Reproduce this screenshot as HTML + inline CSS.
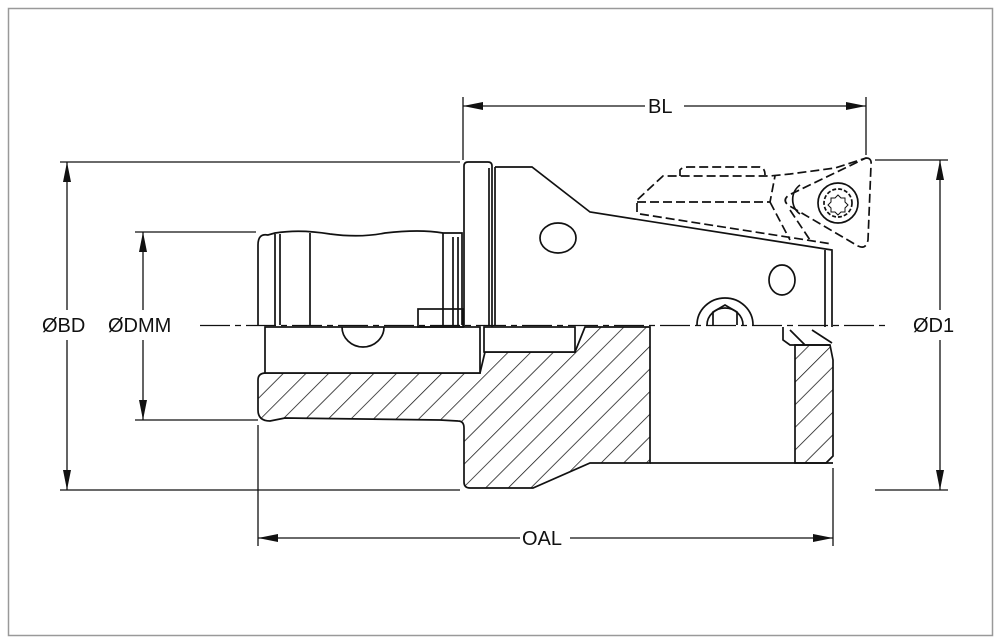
<!DOCTYPE html>
<html><head><meta charset="utf-8"><style>
html,body{margin:0;padding:0;background:#fff;}
svg{display:block;}
text{font-family:"Liberation Sans",sans-serif;font-size:20px;fill:#111;}
</style></head><body>
<svg width="1001" height="644" viewBox="0 0 1001 644" xmlns="http://www.w3.org/2000/svg">
<defs>
<pattern id="h" width="16" height="16" patternUnits="userSpaceOnUse" patternTransform="rotate(45)">
<line x1="0" y1="0" x2="0" y2="16" stroke="#111" stroke-width="1.5"/>
</pattern>
<marker id="a" viewBox="0 0 20 8" refX="20" refY="4" markerWidth="20" markerHeight="8" markerUnits="userSpaceOnUse" orient="auto-start-reverse">
<path d="M0,0 L20,4 L0,8 Z" fill="#111"/>
</marker>
</defs>
<rect x="8.5" y="8.5" width="984" height="627" fill="none" stroke="#999" stroke-width="1.5"/>
<g fill="none" stroke="#111" stroke-width="1.7">
<path d="M258,380 Q258,373 266,373 L480,373 L485,352 L575,352 L585,327 L650,327 L650,463 L590,463 L533,488 L470,488 Q464,488 464,482 L464,428 Q464,421 458,421 L440,420 L285,418 L270,421 Q258,421 258,410 Z" fill="url(#h)"/>
<path d="M795,345 L830,345 L833,360 L833,456 L826,463 L795,463 Z" fill="url(#h)"/>
<rect x="265" y="327" width="215" height="46" fill="#fff"/>
<rect x="484" y="327" width="91" height="25" fill="#fff"/>
<path d="M342,327 A21,20 0 0 0 384,327" />
<line x1="650" y1="463" x2="833" y2="463"/>
<path d="M258,245 Q258,233 268,235 L275,233 Q300,229 330,234 Q360,238 385,233 Q420,229 443,233 L462,233 L462,325"/>
<line x1="258" y1="245" x2="258" y2="325"/>
<line x1="275" y1="234" x2="275" y2="325"/><line x1="280" y1="234" x2="280" y2="325"/>
<line x1="310" y1="233" x2="310" y2="325"/><line x1="443" y1="233" x2="443" y2="325"/>
<line x1="453" y1="237" x2="453" y2="325"/><line x1="458" y1="237" x2="458" y2="325"/>
<rect x="418" y="309" width="45" height="18"/>
<path d="M464,327 L464,166 Q464,162 468,162 L488,162 Q492,162 492,166 L492,327"/>
<line x1="489" y1="168" x2="489" y2="325"/><line x1="495" y1="167" x2="495" y2="325"/>
<path d="M495,167 L532,167 L590,212 L832,250 L832,327"/>
<line x1="825" y1="250" x2="825" y2="327"/>
<ellipse cx="558" cy="238" rx="18" ry="15"/>
<ellipse cx="782" cy="280" rx="13" ry="15"/>
<path d="M697,325 A28,27 0 0 1 753,325"/>
<path d="M707,325 A18,17 0 0 1 743,325"/>
<path d="M713,325 L713,312 L725,305 L737,312 L737,325"/>
<path d="M783,327 L783,340 L790,345 L830,345 M790,330 L805,345 M812,330 L832,343"/>
<g stroke-dasharray="9,4">
<path d="M637,212 L637,200 L663,176 L770,176 L790,174 L835,168 L866,158"/>
<path d="M680,176 L680,170 Q682,167 688,167 L760,167 Q765,168 765,175"/>
<path d="M637,202 L770,202 L775,176"/>
<path d="M640,214 L832,244"/>
<path d="M770,202 L790,240 M790,210 L810,240"/>
<path d="M866,158 Q872,158 871,165 L868,240 Q866,250 858,246 L788,205 Q782,200 789,195 Z"/>
</g>
<path d="M800,185 A18,18 0 0 0 800,214" />
<circle cx="838" cy="203" r="20"/>
<circle cx="838" cy="203" r="14" stroke-dasharray="4,2"/>
<path d="M838,195 l3,3 4,0 0,4 3,3 -3,3 0,4 -4,0 -3,3 -3,-3 -4,0 0,-4 -3,-3 3,-3 0,-4 4,0 z" stroke-width="1"/>
</g>
<line x1="200" y1="325.5" x2="890" y2="325.5" stroke="#111" stroke-width="1.3" stroke-dasharray="30,5,6,5"/>
<g stroke="#111" stroke-width="1.3" fill="none">
<line x1="60" y1="162" x2="460" y2="162"/><line x1="60" y1="490" x2="460" y2="490"/>
<line x1="67" y1="162" x2="67" y2="310" marker-start="url(#a)"/><line x1="67" y1="340" x2="67" y2="490" marker-end="url(#a)"/>
<line x1="135" y1="232" x2="256" y2="232"/><line x1="135" y1="420" x2="258" y2="420"/>
<line x1="143" y1="232" x2="143" y2="310" marker-start="url(#a)"/><line x1="143" y1="340" x2="143" y2="420" marker-end="url(#a)"/>
<line x1="875" y1="160" x2="948" y2="160"/><line x1="875" y1="490" x2="948" y2="490"/>
<line x1="940" y1="160" x2="940" y2="310" marker-start="url(#a)"/><line x1="940" y1="340" x2="940" y2="490" marker-end="url(#a)"/>
<line x1="463" y1="97" x2="463" y2="160"/><line x1="866" y1="97" x2="866" y2="155"/>
<line x1="463" y1="106" x2="645" y2="106" marker-start="url(#a)"/><line x1="684" y1="106" x2="866" y2="106" marker-end="url(#a)"/>
<line x1="258" y1="425" x2="258" y2="546"/><line x1="833" y1="468" x2="833" y2="546"/>
<line x1="258" y1="538" x2="520" y2="538" marker-start="url(#a)"/><line x1="570" y1="538" x2="833" y2="538" marker-end="url(#a)"/>
</g>
<text x="42" y="332">ØBD</text>
<text x="108" y="332">ØDMM</text>
<text x="913" y="332">ØD1</text>
<text x="648" y="113">BL</text>
<text x="522" y="545">OAL</text>
</svg>
</body></html>
